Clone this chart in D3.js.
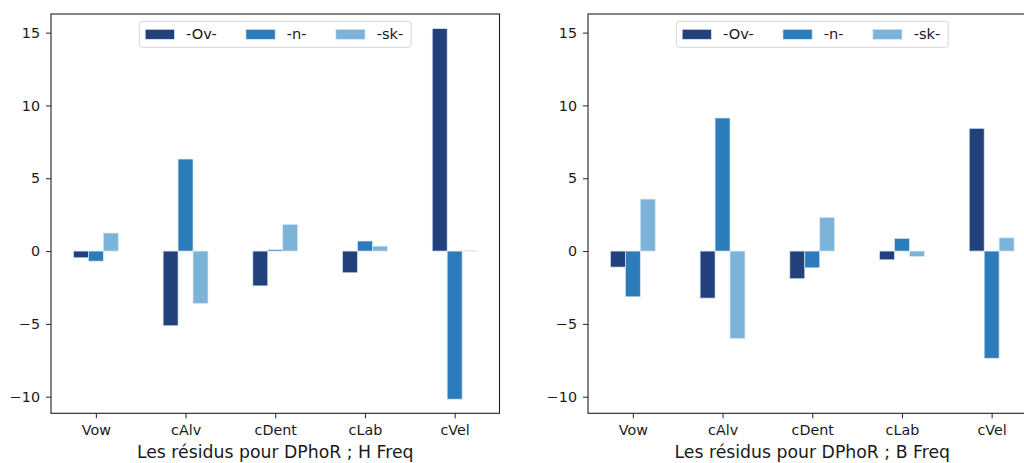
<!DOCTYPE html>
<html>
<head>
<meta charset="utf-8">
<script src="https://cdn.jsdelivr.net/npm/d3@7"></script>
<style>
  html, body { margin: 0; padding: 0; background: #fff; }
  svg { display: block; font-family: "DejaVu Sans", sans-serif; }
</style>
</head>
<body>
<svg id="chart" width="1024" height="463"></svg>
<script>
// Categories and residual series for the two panels
const categories = ["Vow", "cAlv", "cDent", "cLab", "cVel"];
const seriesNames = ["-Ov-", "-n-", "-sk-"];
const seriesColors = ["#22407b", "#2c7bbb", "#7bb4d8"];

const hFreqOv = [-0.46, -5.13, -2.39, -1.49, 15.28];
const hFreqN  = [-0.69, 6.32, 0.09, 0.69, -10.17];
const hFreqSk = [1.24, -3.6, 1.83, 0.34, 0.02];

const bFreqOv = [-1.1, -3.23, -1.9, -0.6, 8.43];
const bFreqN  = [-3.14, 9.14, -1.15, 0.87, -7.36];
const bFreqSk = [3.57, -6.0, 2.31, -0.37, 0.91];

const yTicks = [-10, -5, 0, 5, 10, 15];
const yDomain = [-11.14, 16.28];

const panels = [
  { title: "Les résidus pour DPhoR ; H Freq", series: [hFreqOv, hFreqN, hFreqSk], left: 51 },
  { title: "Les résidus pour DPhoR ; B Freq", series: [bFreqOv, bFreqN, bFreqSk], left: 588 }
];

const svg = d3.select("#chart");
const axTop = 14, axBottom = 413.3, axWidth = 448.5;
const tickFont = 14.3, labelFont = 17.3, legendFont = 14.6;

const y = d3.scaleLinear().domain(yDomain).range([axBottom, axTop]);
const barW = 0.5 / seriesNames.length;

panels.forEach(p => {
  const g = svg.append("g");
  const x = d3.scaleLinear().domain([-0.5, categories.length - 0.5]).range([p.left, p.left + axWidth]);

  // bars
  p.series.forEach((vals, j) => {
    g.append("g").selectAll("rect")
      .data(vals)
      .join("rect")
      .attr("x", (d, i) => x(i + (j - 1) * barW - barW / 2))
      .attr("width", (d, i) => x(barW) - x(0))
      .attr("y", d => y(Math.max(0, d)))
      .attr("height", d => Math.abs(y(d) - y(0)))
      .attr("fill", seriesColors[j])
      .attr("stroke", "#dce8f3")
      .attr("stroke-width", 0.7);
  });

  // axes
  const xAxis = d3.axisBottom(x)
    .tickValues(d3.range(categories.length))
    .tickFormat(i => categories[i])
    .tickSize(5)
    .tickPadding(5);
  const gx = g.append("g").attr("transform", `translate(0,${axBottom})`).call(xAxis);
  const yAxis = d3.axisLeft(y).tickValues(yTicks).tickFormat(d3.format("d")).tickSize(5).tickPadding(6);
  const gy = g.append("g").attr("transform", `translate(${p.left},0)`).call(yAxis);
  [gx, gy].forEach(a => {
    a.select(".domain").remove();
    a.selectAll("text").attr("font-size", tickFont).attr("fill", "#1a1a1a").attr("font-family", "DejaVu Sans");
    a.selectAll("line").attr("stroke", "#222").attr("stroke-width", 1);
  });
  gx.selectAll("text").attr("dy", "0.85em");

  // frame
  g.append("rect")
    .attr("x", p.left).attr("y", axTop)
    .attr("width", axWidth).attr("height", axBottom - axTop)
    .attr("fill", "none").attr("stroke", "#222").attr("stroke-width", 1.1);

  // x label
  g.append("text")
    .attr("x", p.left + axWidth / 2)
    .attr("y", 458)
    .attr("text-anchor", "middle")
    .attr("font-size", labelFont)
    .attr("fill", "#1a1a1a")
    .text(p.title);

  // legend (upper center, 3 columns)
  const f = legendFont;
  const lg = g.append("g");
  const items = lg.selectAll("g.item").data(seriesNames).join("g").attr("class", "item");
  items.append("rect").attr("width", 2 * f).attr("height", 10).attr("y", -5)
    .attr("fill", (d, i) => seriesColors[i])
    .attr("stroke", "#dce8f3").attr("stroke-width", 0.7);
  items.append("text").attr("font-size", f).attr("fill", "#1a1a1a").text(d => d)
    .attr("x", 2.8 * f).attr("dy", "0.35em");
  let cx = 0.4 * f;
  items.each(function () {
    const w = d3.select(this).select("text").node().getComputedTextLength();
    d3.select(this).attr("transform", `translate(${cx},13)`);
    cx += 2.8 * f + w + 2 * f;
  });
  const boxW = cx - 2 * f + 0.4 * f + 2;
  const boxH = 26;
  lg.insert("rect", ":first-child")
    .attr("width", boxW).attr("height", boxH)
    .attr("rx", 3).attr("ry", 3)
    .attr("fill", "#fff").attr("fill-opacity", 0.8)
    .attr("stroke", "#d5d5d5").attr("stroke-width", 1);
  lg.attr("transform", `translate(${p.left + axWidth / 2 - boxW / 2},21.3)`);
});
</script>
</body>
</html>
